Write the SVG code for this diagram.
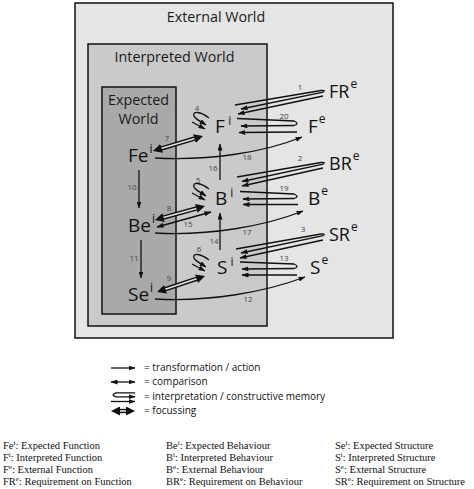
<svg xmlns="http://www.w3.org/2000/svg" width="474" height="489" viewBox="0 0 474 489">
<style>
.box{stroke:#111;stroke-width:1.5}
.title{font-family:"Open Sans","Noto Sans",sans-serif;font-size:14.3px;fill:#1a1a1a;text-anchor:middle}
.lbl{font-family:"Open Sans","Noto Sans",sans-serif;font-size:19px;fill:#111}
.lbl2{font-family:"Open Sans","Noto Sans",sans-serif;font-size:18px;fill:#111}
.sup{font-size:12px}
.num{font-family:"Open Sans","Noto Sans",sans-serif;font-size:8px;fill:#444;text-anchor:middle}
.ln{fill:none;stroke:#111;stroke-width:1.3}
.ar{marker-end:url(#ah)}
.both{marker-start:url(#ah);marker-end:url(#ah)}
.fo{fill:none;stroke:#111;stroke-width:4.4}
.fi{fill:none;stroke:#e2e2e2;stroke-width:1.6}
.fm{fill:none;stroke:none;marker-start:url(#fh);marker-end:url(#fh)}
.leg{font-family:"Open Sans","Noto Sans",sans-serif;font-size:10px;fill:#111}
.key{font-family:"Liberation Serif","Times New Roman",serif;font-size:10.5px;fill:#111}
</style>
<defs>
<marker id="ah" viewBox="0 0 7 5" refX="6.5" refY="2.5" markerWidth="7" markerHeight="5" markerUnits="userSpaceOnUse" orient="auto-start-reverse"><path d="M0,0 L7,2.5 L0,5 z" fill="#111"/></marker>
<marker id="fh" viewBox="0 0 9 9" refX="9" refY="4.5" markerWidth="9" markerHeight="9" markerUnits="userSpaceOnUse" orient="auto-start-reverse"><path d="M0,0 L9,4.5 L0,9 z" fill="#111"/></marker>
</defs>
<rect width="474" height="489" fill="#ffffff"/>
<g id="external-world">
<rect class="box" x="75" y="3" width="318" height="335" fill="#e5e5e5"/>
<text class="title" x="216" y="22">External World</text>
</g>
<g id="interpreted-world">
<rect class="box" x="88" y="44" width="179" height="282" fill="#cacaca"/>
<text class="title" x="174.5" y="61.5">Interpreted World</text>
</g>
<g id="expected-world">
<rect class="box" x="102" y="87" width="74" height="227" fill="#a9a9a9"/>
<text class="title" x="138.5" y="104.5">Expected</text>
<text class="title" x="138.5" y="124">World</text>
</g>
<g id="node-Fei"><text class="lbl" x="128" y="162">Fe<tspan class="sup" dx="1" dy="-9">i</tspan></text></g>
<g id="node-Bei"><text class="lbl" x="128" y="232">Be<tspan class="sup" dx="1" dy="-9">i</tspan></text></g>
<g id="node-Sei"><text class="lbl" x="128" y="301">Se<tspan class="sup" dx="1" dy="-9">i</tspan></text></g>
<g id="node-Fi"><text class="lbl" x="215" y="133">F<tspan class="sup" dx="3.5" dy="-8">i</tspan></text></g>
<g id="node-Bi"><text class="lbl" x="215" y="205">B<tspan class="sup" dx="3" dy="-8">i</tspan></text></g>
<g id="node-Si"><text class="lbl" x="217" y="274">S<tspan class="sup" dx="3" dy="-8">i</tspan></text></g>
<g id="node-Fe"><text class="lbl" x="308" y="133">F<tspan class="sup" dx="1" dy="-10">e</tspan></text></g>
<g id="node-Be"><text class="lbl" x="308" y="205">B<tspan class="sup" dx="1" dy="-10">e</tspan></text></g>
<g id="node-Se"><text class="lbl" x="310" y="274">S<tspan class="sup" dx="1" dy="-10">e</tspan></text></g>
<g id="node-FRe"><text class="lbl2" x="329" y="98">FR<tspan class="sup" dx="1" dy="-10">e</tspan></text></g>
<g id="node-BRe"><text class="lbl2" x="329" y="170">BR<tspan class="sup" dx="1" dy="-10">e</tspan></text></g>
<g id="node-SRe"><text class="lbl2" x="329" y="241">SR<tspan class="sup" dx="1" dy="-10">e</tspan></text></g>
<g id="connectors">
<!-- interpretation from requirements -->
<path class="ln ar" d="M235,105 L321,90.5 Q327,90 322,92.5 L241,109"/>
<path class="ln ar" d="M323,96 L238,114"/>
<path class="ln ar" d="M237,177 L321,162.5 Q327,162 322,164.5 L242,181.5"/>
<path class="ln ar" d="M323,168 L242,186"/>
<path class="ln ar" d="M236,249 L321,234 Q327,233.5 322,236 L241,253"/>
<path class="ln ar" d="M323,240 L240,258"/>
<!-- interpretation from external -->
<path class="ln ar" d="M237,118.5 L294,121 Q300,123.5 294,125.5 L241,126"/>
<path class="ln ar" d="M297,132 L239,132.5"/>
<path class="ln ar" d="M240,191.5 L294,194 Q300,196.5 294,198.5 L243,199"/>
<path class="ln ar" d="M298,204.5 L243,204.5"/>
<path class="ln ar" d="M240,262 L294,264 Q300,266.5 294,268.5 L242,269"/>
<path class="ln ar" d="M297,275 L242,275"/>
<!-- constructive memory loops -->
<path class="ln ar" d="M209,118 C200,111 192,111 194,116 C195,119 200,121 206,125"/>
<path class="ln ar" d="M192,122 L205,129"/>
<path class="ln ar" d="M209,189 C200,182 192,182 194,187 C195,190 200,192 206,196"/>
<path class="ln ar" d="M192,193 L205,200"/>
<path class="ln ar" d="M209,260 C200,253 192,253 194,258 C195,261 200,263 206,267"/>
<path class="ln ar" d="M192,264 L205,271"/>
<!-- transformations -->
<path class="ln ar" d="M139,170 L139,208"/>
<path class="ln ar" d="M141,240 L141,278"/>
<path class="ln ar" d="M220,180 L220,144"/>
<path class="ln ar" d="M220,250 L220,213"/>
<path class="ln ar" d="M155,158 C210,161 265,152 302,137"/>
<path class="ln ar" d="M155,233 C210,236 265,226 303,211"/>
<path class="ln ar" d="M155,299 C210,302 265,292 305,277"/>
<!-- comparison -->
<path class="ln both" d="M157,227 L211,212"/>
<!-- focussing -->
<path class="fo" d="M157.8,149.6 L198.2,137.4"/><path class="fi" d="M157.8,149.6 L198.2,137.4"/><path class="fm" d="M153,151 L203,136"/>
<path class="fo" d="M159.8,218.6 L200.2,207.4"/><path class="fi" d="M159.8,218.6 L200.2,207.4"/><path class="fm" d="M155,220 L205,206"/>
<path class="fo" d="M161.7,290.4 L200.3,277.6"/><path class="fi" d="M161.7,290.4 L200.3,277.6"/><path class="fm" d="M157,292 L205,276"/>
<!-- labels -->
<text class="num" x="300" y="90">1</text>
<text class="num" x="284" y="119">20</text>
<text class="num" x="197" y="111">4</text>
<text class="num" x="167" y="141">7</text>
<text class="num" x="247" y="160">18</text>
<text class="num" x="213" y="171">16</text>
<text class="num" x="300" y="161">2</text>
<text class="num" x="198" y="183">5</text>
<text class="num" x="284" y="191">19</text>
<text class="num" x="132" y="190">10</text>
<text class="num" x="169" y="211">8</text>
<text class="num" x="188" y="227">15</text>
<text class="num" x="247" y="235">17</text>
<text class="num" x="303" y="232">3</text>
<text class="num" x="199" y="252">6</text>
<text class="num" x="214" y="244">14</text>
<text class="num" x="284" y="261">13</text>
<text class="num" x="134" y="261">11</text>
<text class="num" x="169" y="281">9</text>
<text class="num" x="248" y="302">12</text>
</g>
<g id="legend">
<path class="ln ar" d="M111,368 L135,368"/>
<text class="leg" x="144" y="370.5">= transformation / action</text>
<path class="ln both" d="M111,382 L135,382"/>
<text class="leg" x="144" y="384.5">= comparison</text>
<path class="ln ar" d="M135,392.8 L116,392.8 Q110,394.8 116,396.8 L135,396.8"/>
<path class="ln ar" d="M111,401.5 L135,401.5"/>
<text class="leg" x="144" y="399.5">= interpretation / constructive memory</text>
<path class="fo" d="M116,411 L130,411"/><path class="fi" d="M116,411 L130,411"/><path class="fm" d="M111,411 L135,411"/>
<text class="leg" x="144" y="414">= focussing</text>
</g>
<g id="key">
<text class="key" x="3" y="449">Fe<tspan dy="-4" font-size="7">i</tspan><tspan dy="4">: Expected Function</tspan></text>
<text class="key" x="3" y="461">F<tspan dy="-4" font-size="7">i</tspan><tspan dy="4">: Interpreted Function</tspan></text>
<text class="key" x="3" y="473">F<tspan dy="-4" font-size="7">e</tspan><tspan dy="4">: External Function</tspan></text>
<text class="key" x="3" y="484.5">FR<tspan dy="-4" font-size="7">e</tspan><tspan dy="4">: Requirement on Function</tspan></text>
<text class="key" x="166" y="449">Be<tspan dy="-4" font-size="7">i</tspan><tspan dy="4">: Expected Behaviour</tspan></text>
<text class="key" x="166" y="461">B<tspan dy="-4" font-size="7">i</tspan><tspan dy="4">: Interpreted Behaviour</tspan></text>
<text class="key" x="166" y="473">B<tspan dy="-4" font-size="7">e</tspan><tspan dy="4">: External Behaviour</tspan></text>
<text class="key" x="166" y="484.5">BR<tspan dy="-4" font-size="7">e</tspan><tspan dy="4">: Requirement on Behaviour</tspan></text>
<text class="key" x="335" y="449">Se<tspan dy="-4" font-size="7">i</tspan><tspan dy="4">: Expected Structure</tspan></text>
<text class="key" x="335" y="461">S<tspan dy="-4" font-size="7">i</tspan><tspan dy="4">: Interpreted Structure</tspan></text>
<text class="key" x="335" y="473">S<tspan dy="-4" font-size="7">e</tspan><tspan dy="4">: External Structure</tspan></text>
<text class="key" x="335" y="484.5">SR<tspan dy="-4" font-size="7">e</tspan><tspan dy="4">: Requirement on Structure</tspan></text>
</g>
</svg>
